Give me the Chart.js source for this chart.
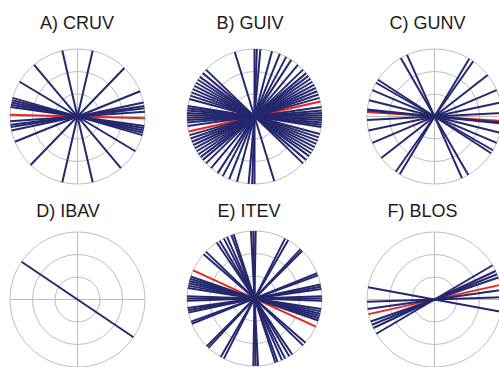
<!DOCTYPE html>
<html>
<head>
<meta charset="utf-8">
<script src="https://cdn.jsdelivr.net/npm/chart.js@4.4.1/dist/chart.umd.min.js"></script>
<style>
  html, body { margin: 0; padding: 0; background: #fff; width: 499px; height: 367px; overflow: hidden; }
  body { position: relative; }
  .panel { position: absolute; width: 139px; height: 139px; }
  .title { position: absolute; font: 18px "Liberation Sans", Arial, sans-serif; color: #1c1c1c;
           line-height: 1; white-space: nowrap; transform: translate(-50%, -50%); }
</style>
</head>
<body>
<script>
// Site labels, one rose diagram per site
const panelTitles = ['A) CRUV', 'B) GUIV', 'C) GUNV', 'D) IBAV', 'E) ITEV', 'F) BLOS'];

// Axial orientations in degrees (counter-clockwise from east), one line per measurement
const cruvAngles = [103, 77, 130, 46, 149, 22, 164, 166, 168, 170, 172, 4, 7, 9, 12];
const guivAngles = [85, 88, 90, 107, 75, 68, 62, 57,
                    50, 44, 40, 37, 34, 31, 28, 25, 22, 19, 16,
                    8, 5, 3, 1, 179, 177, 175, 173, 171,
                    165, 162, 159, 156, 153, 150, 147, 144, 140, 136];
const gunvAngles = [114, 120, 147, 150, 157, 166, 175, 55, 59, 38, 23, 12, 3, 174];
const ibavAngles = [146];
const itevAngles = [93, 91, 89, 121, 117, 114, 110, 108, 124, 139, 136,
                    161, 163, 165, 167, 169, 171, 180, 178, 60, 45, 20, 10, 8, 2, 12, 22, 47, 63];
const blosAngles = [169.5, 2, 8, 19, 22, 25, 30.5];

// Mean orientation per site (null where none is drawn)
const meanAngles = [-1.5, 12.8, -3.9, null, 155.3, 12.5];

// Concentric reference rings, as fractions of the outer radius
const ringLevels = [1 / 3, 2 / 3, 1];

const siteAngles = [cruvAngles, guivAngles, gunvAngles, ibavAngles, itevAngles, blosAngles];

// Panel placement: circle centre and title centre, in page pixels
const layout = [
  { cx: 77.7,  cy: 116,   tx: 77,    ty: 22.5 },
  { cx: 254.3, cy: 116.5, tx: 250,   ty: 22.5 },
  { cx: 434.3, cy: 116,   tx: 427.5, ty: 22.5 },
  { cx: 77.7,  cy: 299.3, tx: 68,    ty: 211 },
  { cx: 254.7, cy: 298.7, tx: 249,   ty: 211 },
  { cx: 434.3, cy: 299.3, tx: 422.5, ty: 211 }
];

const NAVY = '#25286e';
const RED = '#e8261f';
const GRID = '#bcbcbc';

// Rings and crosshair drawn from the chart's own scales
const polarGrid = {
  id: 'polarGrid',
  beforeDatasetsDraw(chart) {
    const { ctx, scales: { x, y } } = chart;
    const cx = x.getPixelForValue(0);
    const cy = y.getPixelForValue(0);
    const r = x.getPixelForValue(1) - cx;
    ctx.save();
    ctx.strokeStyle = GRID;
    ctx.lineWidth = 1;
    ringLevels.forEach(f => {
      ctx.beginPath();
      ctx.arc(cx, cy, r * f, 0, Math.PI * 2);
      ctx.stroke();
    });
    ctx.beginPath();
    ctx.moveTo(cx - r, cy); ctx.lineTo(cx + r, cy);
    ctx.moveTo(cx, cy - r); ctx.lineTo(cx, cy + r);
    ctx.stroke();
    ctx.restore();
  }
};

function axialLine(deg, color) {
  const t = deg * Math.PI / 180;
  const c = Math.cos(t), s = Math.sin(t);
  return {
    data: [{ x: c, y: s }, { x: -c, y: -s }],
    showLine: true,
    borderColor: color,
    borderWidth: 2,
    pointRadius: 0,
    pointHoverRadius: 0,
    borderCapStyle: 'butt',
    clip: false
  };
}

panelTitles.forEach((title, i) => {
  const pos = layout[i];

  const label = document.createElement('div');
  label.className = 'title';
  label.textContent = title;
  label.style.left = pos.tx + 'px';
  label.style.top = pos.ty + 'px';
  document.body.appendChild(label);

  const canvas = document.createElement('canvas');
  canvas.className = 'panel';
  canvas.width = 139;
  canvas.height = 139;
  canvas.style.left = (pos.cx - 69.5) + 'px';
  canvas.style.top = (pos.cy - 69.5) + 'px';
  document.body.appendChild(canvas);

  const datasets = siteAngles[i].map(a => axialLine(a, NAVY));
  if (meanAngles[i] !== null) datasets.push(axialLine(meanAngles[i], RED));

  new Chart(canvas, {
    type: 'scatter',
    data: { datasets },
    options: {
      responsive: false,
      animation: false,
      events: [],
      layout: { padding: 2 },
      plugins: { legend: { display: false }, tooltip: { enabled: false } },
      scales: {
        x: { type: 'linear', min: -1, max: 1, display: false },
        y: { type: 'linear', min: -1, max: 1, display: false }
      }
    },
    plugins: [polarGrid]
  });
});
</script>
</body>
</html>
